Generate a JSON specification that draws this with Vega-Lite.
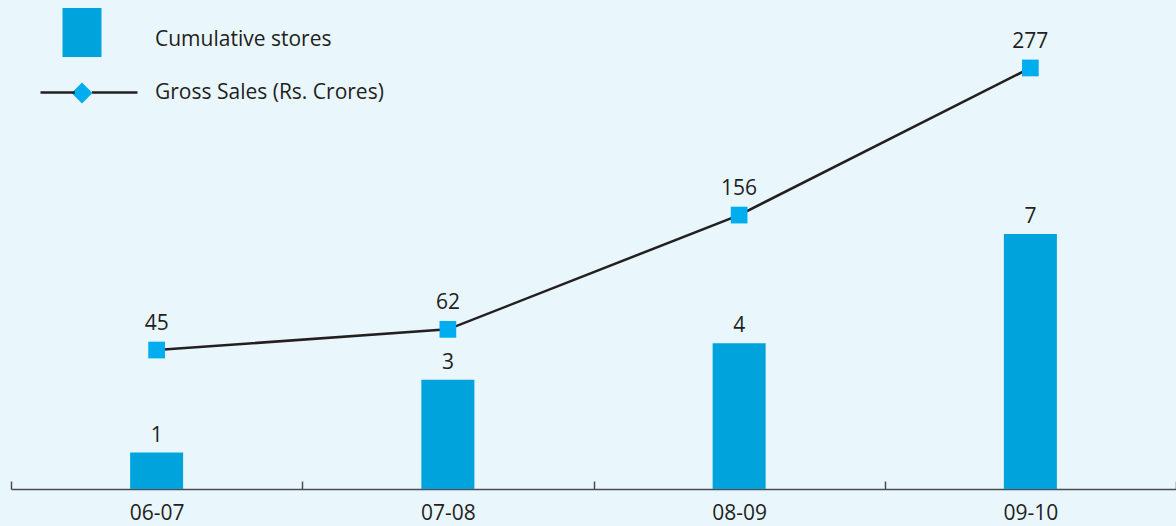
{
  "$schema": "https://vega.github.io/schema/vega-lite/v6.json",
  "width": 1165,
  "height": 489,
  "autosize": "none",
  "padding": {"left": 11, "top": 0, "right": 0, "bottom": 37},
  "background": "#e9f6fc",
  "config": {
    "view": {"stroke": null},
    "font": "Open Sans",
    "text": {"font": "Open Sans", "fontSize": 21, "color": "#231f20"}
  },
  "data": {
    "values": [
      {"year": "06-07", "stores": 1, "sales": 45},
      {"year": "07-08", "stores": 3, "sales": 62},
      {"year": "08-09", "stores": 4, "sales": 156},
      {"year": "09-10", "stores": 7, "sales": 277}
    ]
  },
  "encoding": {
    "x": {
      "field": "year",
      "type": "ordinal",
      "scale": {"paddingInner": 0, "paddingOuter": 0},
      "axis": {
        "title": null,
        "labelAngle": 0,
        "labelFontSize": 21,
        "labelFont": "Open Sans",
        "labelColor": "#231f20",
        "domainColor": "#4d4d4f",
        "domainWidth": 1.5,
        "tickColor": "#4d4d4f",
        "tickWidth": 1.5,
        "tickSize": -8,
        "tickBand": "extent",
        "labelPadding": 21,
        "grid": false
      }
    }
  },
  "layer": [
    {
      "encoding": {
        "y": {"field": "stores", "type": "quantitative", "scale": {"domain": [0, 13.43]}, "axis": null}
      },
      "layer": [
        {
          "mark": {"type": "bar", "width": {"band": 0.182}, "opacity": 1},
          "encoding": {
            "fill": {
              "datum": "Cumulative stores",
              "type": "nominal",
              "scale": {"domain": ["Cumulative stores", "Gross Sales (Rs. Crores)"], "range": ["#00a3dc", "#00aeef"]},
              "legend": {
                "orient": "none",
                "legendX": 45,
                "legendY": 14,
                "title": null,
                "padding": 0,
                "rowPadding": 9,
                "symbolSize": 2704,
                "symbolStrokeWidth": 0,
                "symbolOpacity": 1,
                "symbolType": "M-0.75,-1.192H0.75V0.692H-0.75Z",
                "labelOffset": 47,
                "labelFontSize": 21,
                "labelFont": "Open Sans",
                "labelColor": "#231f20",
                "labelLimit": 400,
                "encode": {
                  "symbols": {
                    "update": {
                      "shape": {"signal": "datum.value === 'Cumulative stores' ? 'M-0.75,-1.23H0.75V0.654H-0.75Z' : 'M0,-0.404L0.404,0L0,0.404L-0.404,0Z'"},
                      "strokeWidth": {"value": 0},
                      "opacity": {"value": 1}
                    }
                  }
                }
              }
            }
          }
        },
        {
          "mark": {"type": "text", "dy": -11, "baseline": "alphabetic"},
          "encoding": {"text": {"field": "stores", "type": "quantitative"}}
        }
      ]
    },
    {
      "encoding": {
        "y": {"field": "sales", "type": "quantitative", "scale": {"domain": [-69.3, 332.9]}, "axis": null}
      },
      "layer": [
        {
          "mark": {"type": "line", "strokeWidth": 2.5},
          "encoding": {
            "stroke": {
              "datum": "Gross Sales (Rs. Crores)",
              "type": "nominal",
              "scale": {"range": ["#231f20"]},
              "legend": {
                "orient": "none",
                "legendX": 45,
                "legendY": 65,
                "title": null,
                "padding": 0,
                "symbolSize": 2704,
                "symbolStrokeWidth": 2.5,
                "symbolType": "M-1.654,0H-0.33M0.33,0H2.077",
                "labelExpr": "''"
              }
            }
          }
        },
        {
          "mark": {"type": "point", "shape": "square", "filled": true, "size": 280, "opacity": 1, "strokeWidth": 0},
          "encoding": {
            "fill": {"datum": "Gross Sales (Rs. Crores)", "type": "nominal"}
          }
        },
        {
          "mark": {"type": "text", "dy": -20, "baseline": "alphabetic"},
          "encoding": {"text": {"field": "sales", "type": "quantitative"}}
        }
      ]
    }
  ],
  "resolve": {"scale": {"y": "independent"}}
}
